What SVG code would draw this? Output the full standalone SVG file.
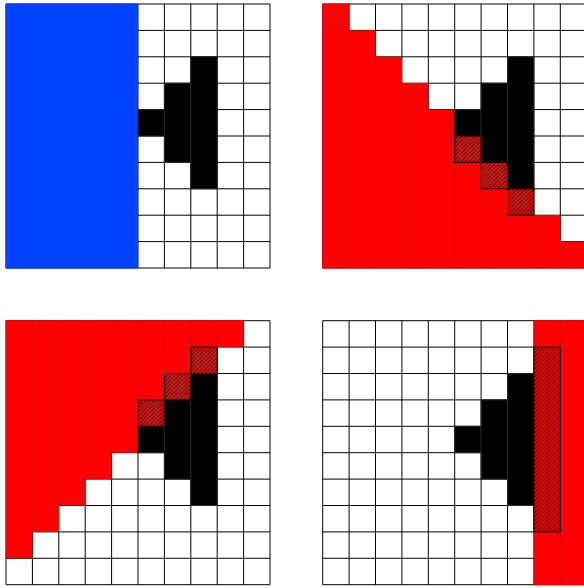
<svg xmlns="http://www.w3.org/2000/svg" xmlns:xlink="http://www.w3.org/1999/xlink" width="584" height="588" viewBox="0 0 584 588">
<style>
.bg{fill:#fff}
.grid{fill:none;stroke:#000;stroke-width:1}
.blue{fill:#0044ff}
.red{fill:#ff0000}
.sep{fill:none;stroke:#c80000;stroke-width:0.6}
.blk{fill:#000;stroke:#262626;stroke-width:1}
.hat{fill:url(#hatch);stroke:#000;stroke-width:1}
</style>
<defs>
<pattern id="hatch" patternUnits="userSpaceOnUse" width="4" height="4">
<rect width="4" height="4" fill="#ff0000"/>
<path d="M-1,1 L1,-1 M0,4 L4,0 M3,5 L5,3" stroke="#000" stroke-width="1"/>
</pattern>
<path id="gridlines" class="grid" d="M0 0V264M26.4 0V264M52.8 0V264M79.2 0V264M105.6 0V264M132 0V264M158.4 0V264M184.8 0V264M211.2 0V264M237.6 0V264M264 0V264M0 0H264M0 26.4H264M0 52.8H264M0 79.2H264M0 105.6H264M0 132H264M0 158.4H264M0 184.8H264M0 211.2H264M0 237.6H264M0 264H264"/>
<g id="shape">
<rect class="blk" x="132" y="105.6" width="26.4" height="26.4"/>
<rect class="blk" x="158.4" y="79.2" width="26.4" height="79.2"/>
<rect class="blk" x="184.8" y="52.8" width="26.4" height="132"/>
</g>
</defs>

<g id="grid-top-left" transform="translate(6,4)">
<rect class="bg" width="264" height="264"/>
<use xlink:href="#gridlines"/>
<rect class="blue" x="-0.5" y="-0.5" width="132.5" height="265"/>
<use xlink:href="#shape"/>
</g>

<g id="grid-top-right" transform="translate(322.7,4)">
<rect class="bg" width="264" height="264"/>
<use xlink:href="#gridlines"/>
<polygon class="red" points="-0.5,-0.5 26.4,-0.5 26.4,26.4 52.8,26.4 52.8,52.8 79.2,52.8 79.2,79.2 105.6,79.2 105.6,105.6 132,105.6 132,132 158.4,132 158.4,158.4 184.8,158.4 184.8,184.8 211.2,184.8 211.2,211.2 237.6,211.2 237.6,237.6 264.5,237.6 264.5,264.5 -0.5,264.5"/>
<path class="sep" d="M26.4 26.4V264M52.8 52.8V264M79.2 79.2V264M105.6 105.6V264M132 158.4V264M158.4 184.8V264M184.8 211.2V264M211.2 211.2V264M237.6 237.6V264"/>
<use xlink:href="#shape"/>
<rect class="hat" x="132" y="132" width="26.4" height="26.4"/>
<rect class="hat" x="158.4" y="158.4" width="26.4" height="26.4"/>
<rect class="hat" x="184.8" y="184.8" width="26.4" height="26.4"/>
</g>

<g id="grid-bottom-left" transform="translate(6,320.7)">
<rect class="bg" width="264" height="264"/>
<use xlink:href="#gridlines"/>
<polygon class="red" points="-0.5,-0.5 237.6,-0.5 237.6,26.4 211.2,26.4 211.2,52.8 184.8,52.8 184.8,79.2 158.4,79.2 158.4,105.6 132,105.6 132,132 105.6,132 105.6,158.4 79.2,158.4 79.2,184.8 52.8,184.8 52.8,211.2 26.4,211.2 26.4,237.6 -0.5,237.6"/>
<path class="sep" d="M26.4 0V211.2M52.8 0V184.8M79.2 0V158.4M105.6 0V132M132 0V79.2M158.4 0V52.8M184.8 0V26.4M211.2 0V26.4"/>
<use xlink:href="#shape"/>
<rect class="hat" x="132" y="79.2" width="26.4" height="26.4"/>
<rect class="hat" x="158.4" y="52.8" width="26.4" height="26.4"/>
<rect class="hat" x="184.8" y="26.4" width="26.4" height="26.4"/>
</g>

<g id="grid-bottom-right" transform="translate(322.7,320.7)">
<rect class="bg" width="264" height="264"/>
<use xlink:href="#gridlines"/>
<rect class="red" x="211.2" y="-0.5" width="53.3" height="265"/>
<path class="sep" d="M237.6 0V264"/>
<use xlink:href="#shape"/>
<rect class="hat" x="211.2" y="26.4" width="26.4" height="184.8"/>
</g>
</svg>
